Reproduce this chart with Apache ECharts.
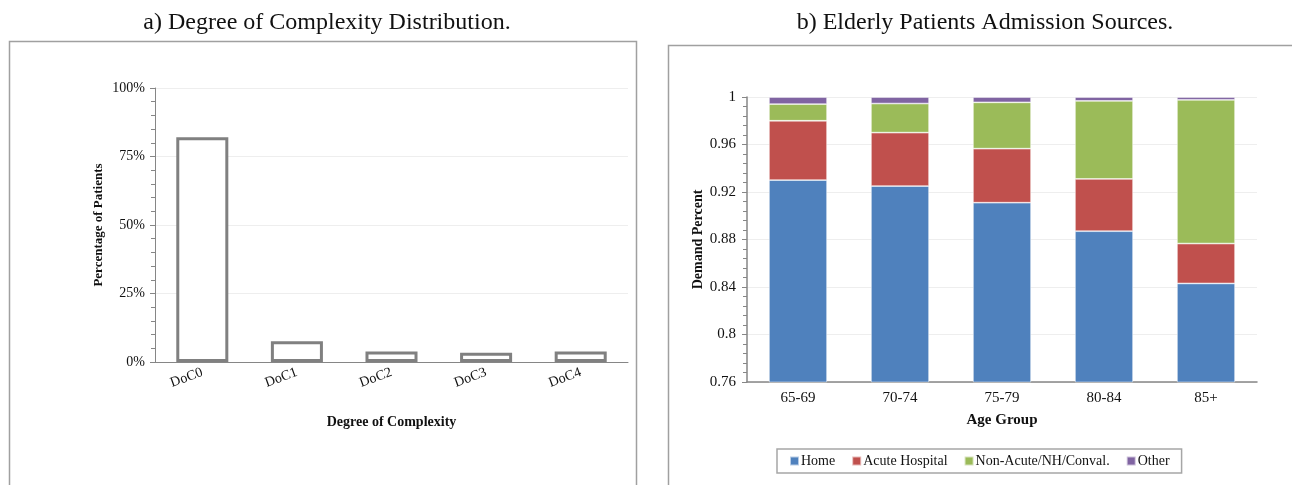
<!DOCTYPE html>
<html lang="en">
<head>
    <meta charset="UTF-8">
    <title>Complexity and Admission Sources</title>
    <script src="https://cdn.jsdelivr.net/npm/echarts@6/dist/echarts.min.js"></script>
    <style>
        html, body { margin: 0; padding: 0; background: #fff; }
        #main { width: 1292px; height: 485px; }
    </style>
</head>
<body>
<div id="main"></div>
<script type="text/javascript">
    // a) degree of complexity
    var docNames = ['DoC0', 'DoC1', 'DoC2', 'DoC3', 'DoC4'];
    var docPercent = [82, 7.6, 3.8, 3.4, 3.8];
    var pctTicks = [0, 25, 50, 75, 100];

    // b) admission sources by age group
    var ageGroups = ['65-69', '70-74', '75-79', '80-84', '85+'];
    var home = [0.930, 0.925, 0.911, 0.887, 0.843];
    var acuteHospital = [0.050, 0.045, 0.0455, 0.044, 0.0336];
    var nonAcute = [0.014, 0.0245, 0.039, 0.0657, 0.121];
    var other = [0.006, 0.0055, 0.0045, 0.0033, 0.0024];
    var sourceNames = ['Home', 'Acute Hospital', 'Non-Acute/NH/Conval.', 'Other'];
    var sourceColors = ['#4F81BD', '#C0504D', '#9BBB59', '#8064A2'];

    var serif = 'Liberation Serif';
    var axisGrey = '#868686';

    var myChart = echarts.init(document.getElementById('main'));

    function stackSeries(name, data, color) {
        return {
            name: name,
            type: 'bar',
            stack: 'src',
            xAxisIndex: 1,
            yAxisIndex: 1,
            barWidth: '57%',
            itemStyle: { color: color, borderColor: 'rgba(255,255,255,0.6)', borderWidth: 0.8 },
            data: data
        };
    }

    var option = {
        backgroundColor: '#fff',
        animation: false,
        title: [
            {
                text: 'a) Degree of Complexity Distribution.',
                left: 322, top: 6, textAlign: 'center',
                textStyle: { fontFamily: serif, fontSize: 24, fontWeight: 'normal', color: '#111' }
            },
            {
                text: 'b) Elderly Patients Admission Sources.',
                left: 980, top: 6, textAlign: 'center',
                textStyle: { fontFamily: serif, fontSize: 24, fontWeight: 'normal', color: '#111' }
            }
        ],
        graphic: [
            { type: 'rect', shape: { x: 9.5, y: 41.5, width: 627, height: 470 },
              style: { fill: 'none', stroke: '#a0a0a0', lineWidth: 1.5 }, silent: true },
            { type: 'rect', shape: { x: 668.5, y: 45.5, width: 640, height: 470 },
              style: { fill: 'none', stroke: '#a0a0a0', lineWidth: 1.5 }, silent: true }
        ],
        legend: {
            data: sourceNames,
            left: 777, top: 449,
            icon: 'rect', itemWidth: 9, itemHeight: 9, itemGap: 16,
            padding: [5, 12],
            borderColor: '#a6a6a6', borderWidth: 1.5,
            textStyle: { fontFamily: serif, fontSize: 14, color: '#111', padding: [0, 0, 0, -3] }
        },
        grid: [
            { left: 155, right: 664, top: 88, bottom: 123 },
            { left: 747, right: 35, top: 97, bottom: 103 }
        ],
        xAxis: [
            {
                gridIndex: 0, type: 'category', data: docNames,
                name: 'Degree of Complexity', nameLocation: 'middle', nameGap: 53,
                nameTextStyle: { fontFamily: serif, fontSize: 14, fontWeight: 'bold', color: '#111' },
                axisLine: { lineStyle: { color: axisGrey, width: 1 } },
                axisTick: { alignWithLabel: true, length: 4, lineStyle: { color: axisGrey } },
                axisLabel: { rotate: 20, margin: 10, fontFamily: serif, fontSize: 14, color: '#111' }
            },
            {
                gridIndex: 1, type: 'category', data: ageGroups,
                name: 'Age Group', nameLocation: 'middle', nameGap: 31,
                nameTextStyle: { fontFamily: serif, fontSize: 15, fontWeight: 'bold', color: '#111' },
                axisLine: { lineStyle: { color: axisGrey, width: 1.5 } },
                axisTick: { alignWithLabel: true, length: 4, lineStyle: { color: axisGrey } },
                axisLabel: { margin: 9, fontFamily: serif, fontSize: 15, color: '#111' }
            }
        ],
        yAxis: [
            {
                gridIndex: 0, type: 'value', min: 0, max: 100, interval: 25,
                name: 'Percentage of Patients', nameLocation: 'middle', nameGap: 50,
                nameTextStyle: { fontFamily: serif, fontSize: 13, fontWeight: 'bold', color: '#111' },
                axisLine: { show: true, lineStyle: { color: axisGrey, width: 1 } },
                axisTick: { show: true, length: 5, lineStyle: { color: axisGrey } },
                minorTick: { show: true, splitNumber: 5, length: 4, lineStyle: { color: axisGrey } },
                splitLine: { lineStyle: { color: '#eeeeee', width: 1 } },
                axisLabel: {
                    margin: 10, fontFamily: serif, fontSize: 14, color: '#111',
                    formatter: function (v) { return pctTicks.indexOf(v) >= 0 ? v + '%' : ''; }
                }
            },
            {
                gridIndex: 1, type: 'value', min: 0.76, max: 1, interval: 0.04,
                name: 'Demand Percent', nameLocation: 'middle', nameGap: 42,
                nameTextStyle: { fontFamily: serif, fontSize: 14, fontWeight: 'bold', color: '#111' },
                axisLine: { show: true, lineStyle: { color: axisGrey, width: 1.5 } },
                axisTick: { show: true, length: 5, lineStyle: { color: axisGrey } },
                minorTick: { show: true, splitNumber: 5, length: 4, lineStyle: { color: axisGrey } },
                splitLine: { lineStyle: { color: '#eeeeee', width: 1 } },
                axisLabel: { margin: 11, fontFamily: serif, fontSize: 15, color: '#111' }
            }
        ],
        series: [
            {
                name: 'Percentage of Patients',
                type: 'bar',
                xAxisIndex: 0, yAxisIndex: 0,
                barWidth: '55%',
                itemStyle: { color: '#fff', borderColor: '#808080', borderWidth: 3 },
                data: docPercent
            },
            stackSeries(sourceNames[0], home, sourceColors[0]),
            stackSeries(sourceNames[1], acuteHospital, sourceColors[1]),
            stackSeries(sourceNames[2], nonAcute, sourceColors[2]),
            stackSeries(sourceNames[3], other, sourceColors[3])
        ]
    };

    myChart.setOption(option);
</script>
</body>
</html>
